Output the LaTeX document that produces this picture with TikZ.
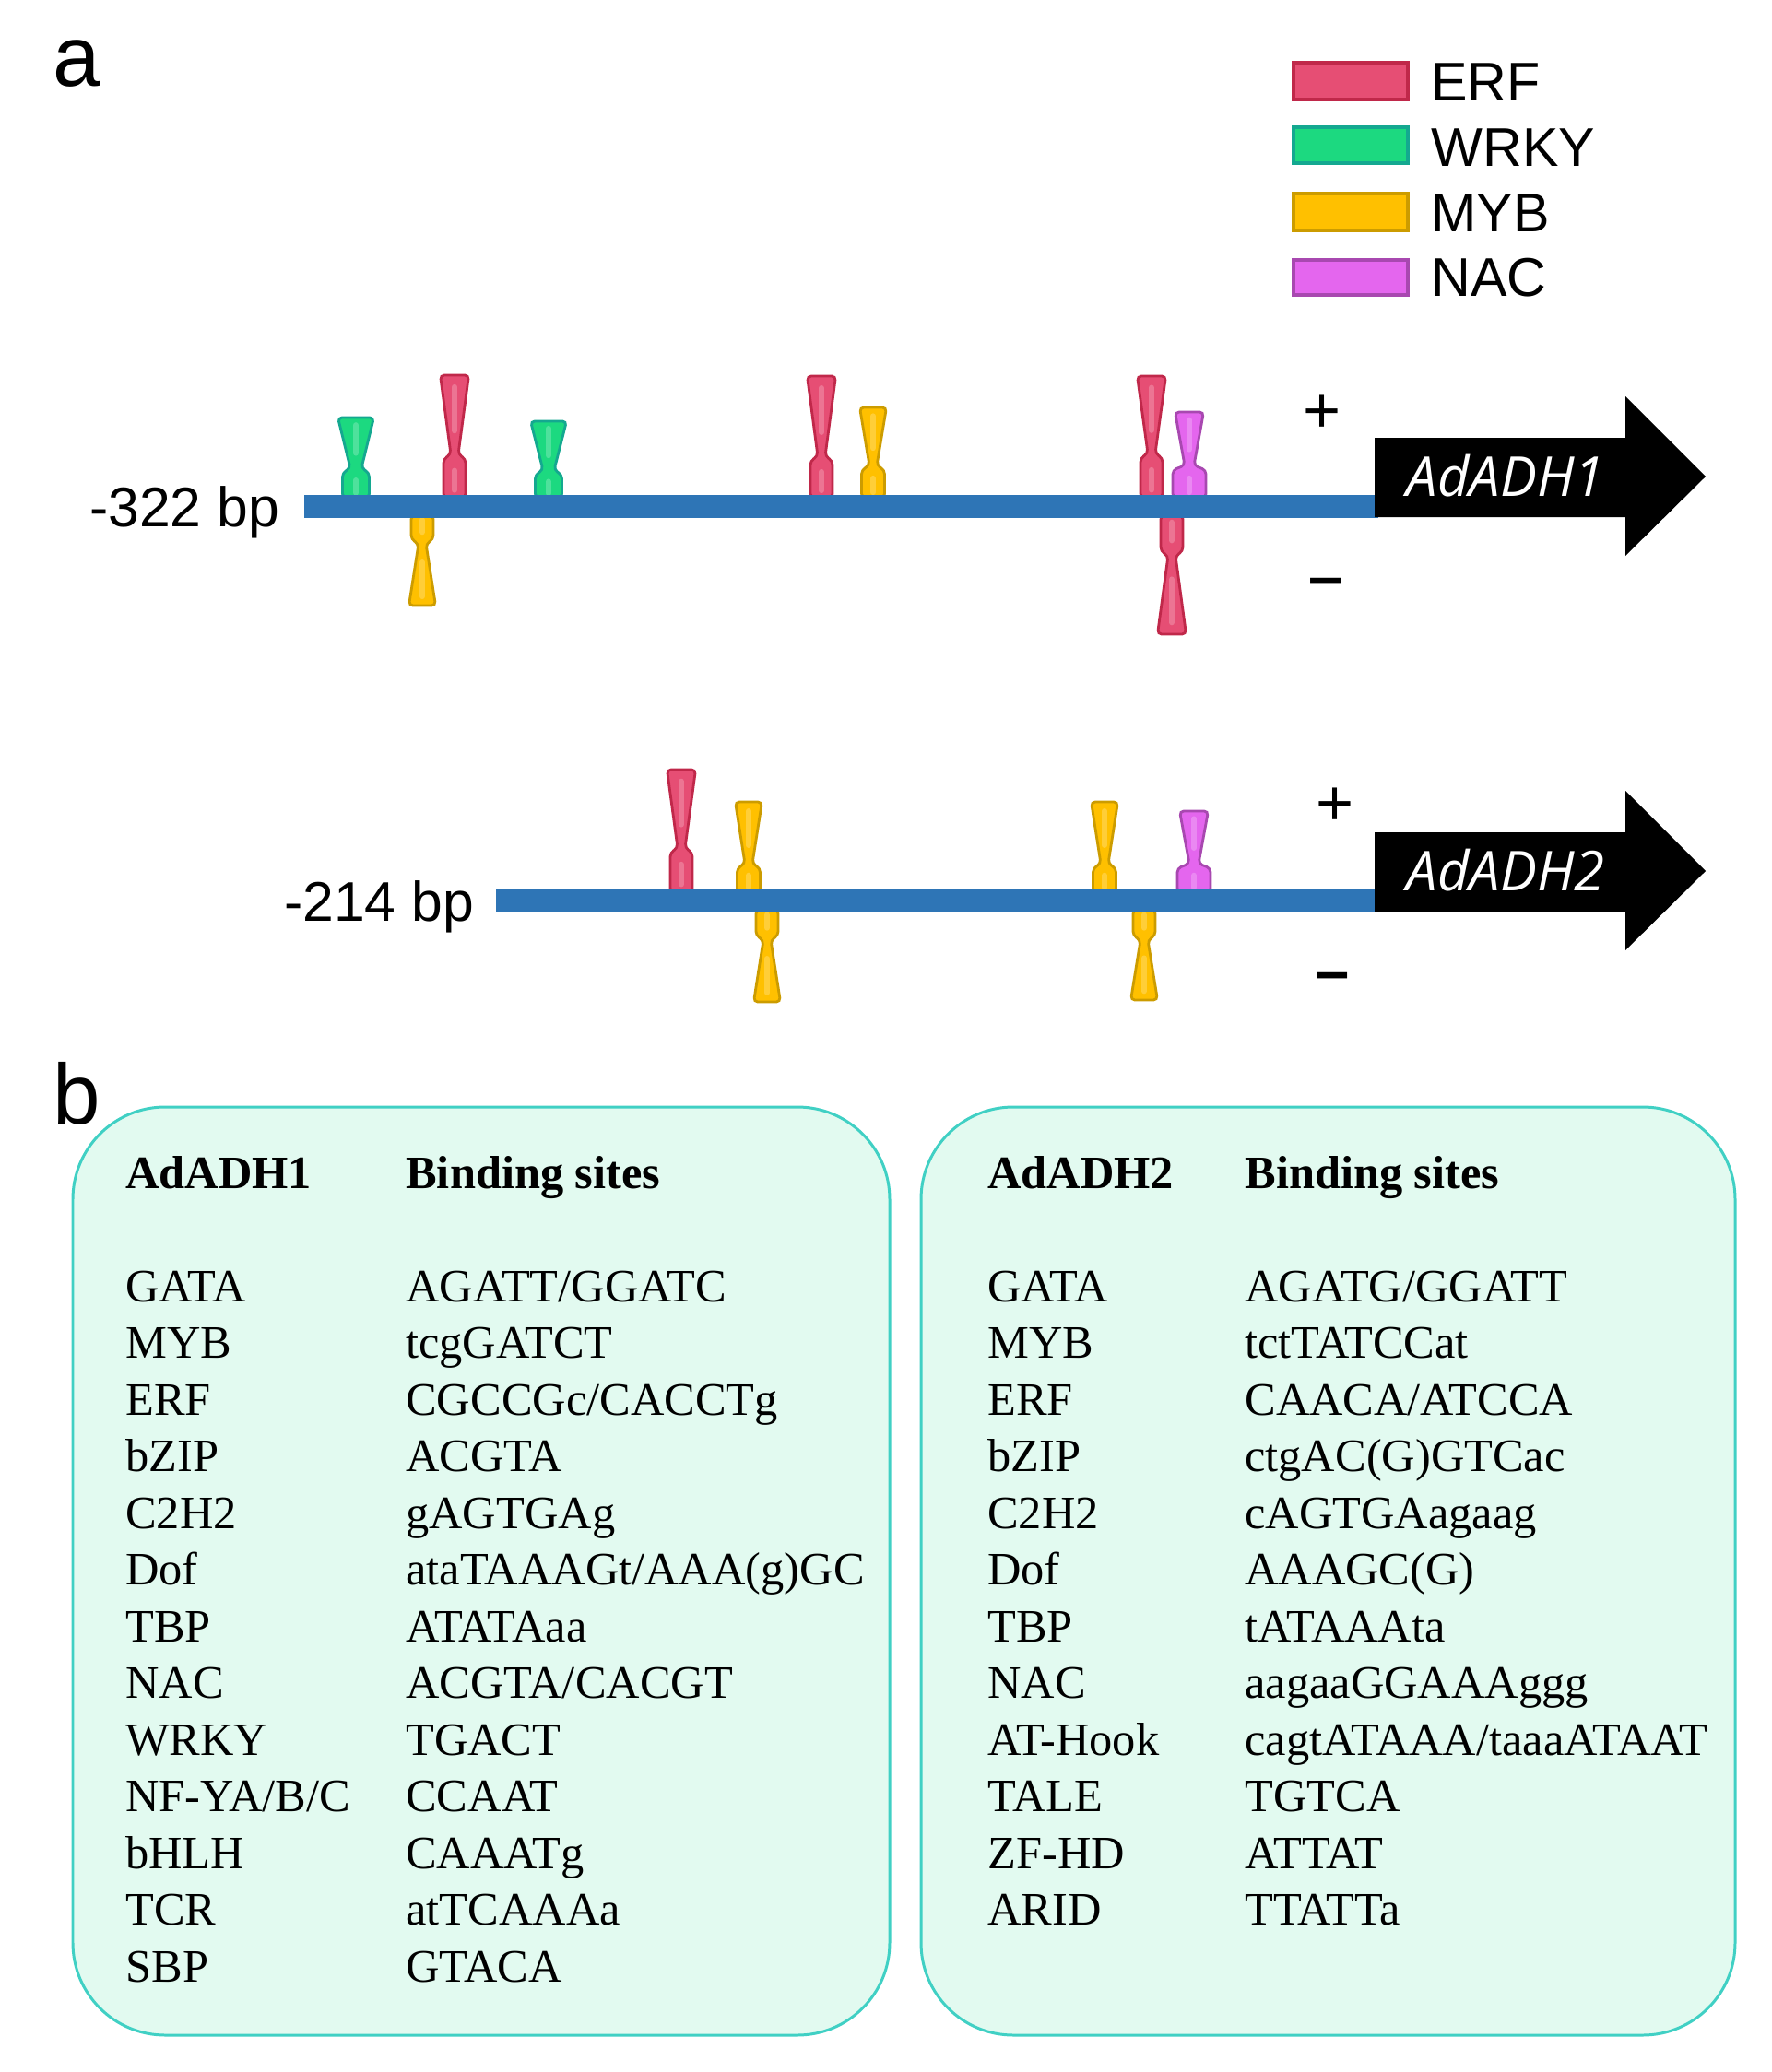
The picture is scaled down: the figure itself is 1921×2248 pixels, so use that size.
\documentclass[tikz,border=0pt]{standalone}
\usepackage{fontspec}
\setmainfont{Liberation Serif}
\setsansfont{Liberation Sans}
\newfontfamily\genefont{Open Sans}
\definecolor{erfF}{HTML}{E64E74}
\definecolor{erfD}{HTML}{C0284A}
\definecolor{wrkF}{HTML}{1CD980}
\definecolor{wrkD}{HTML}{14A890}
\definecolor{mybF}{HTML}{FFC000}
\definecolor{mybD}{HTML}{CC9C00}
\definecolor{nacF}{HTML}{E466EE}
\definecolor{nacD}{HTML}{A848B0}
\definecolor{barc}{HTML}{2E75B6}
\definecolor{boxF}{HTML}{E2FAF0}
\definecolor{boxD}{HTML}{40D0C4}
% #1 x, #2 y at bar, #3 y notch, #4 y waist, #5 y far end, #6 stem width, #7 head width, #8 waist half-width, #9 colour key
\newcommand\tfbs[9]{%
  \draw[line width=1.6pt, rounded corners=2.5pt, draw=#9D, fill=#9F]
    ({#1-#6/2},#2) -- ({#1+#6/2},#2) -- ({#1+#6/2},#3) -- ({#1+#8},#4)
    -- ({#1+#7/2},#5) -- ({#1-#7/2},#5) -- ({#1-#8},#4) -- ({#1-#6/2},#3) -- cycle;
  \draw[line width=3.5pt, #9F!78!white, line cap=round] (#1,{0.8*#2+0.2*#3}) -- (#1,{0.3*#2+0.7*#3});
  \draw[line width=3.5pt, #9F!78!white, line cap=round] (#1,{0.7*#4+0.3*#5}) -- (#1,{0.15*#4+0.85*#5});
}
\tikzset{
  panel/.style={font=\sffamily\fontsize{52.7}{60}\selectfont, anchor=base west, inner sep=0pt},
  legtxt/.style={font=\sffamily\fontsize{33.7}{40}\selectfont, anchor=base west, inner sep=0pt},
  legbox/.style={line width=2.2pt},
  bplabel/.style={font=\sffamily\fontsize{34.5}{40}\selectfont, anchor=base west, inner sep=0pt},
  plus/.style={font=\sffamily\fontsize{40}{46}\selectfont, inner sep=0pt},
  minus/.style={font=\sffamily\bfseries\fontsize{38}{44}\selectfont, inner sep=0pt},
  gene/.style={font=\genefont\itshape\fontsize{34}{40}\selectfont, text=white, inner sep=0pt},
  tbl/.style={font=\fontsize{28.7}{34}\selectfont, anchor=base west, inner sep=0pt},
  tblh/.style={font=\bfseries\fontsize{28.7}{34}\selectfont, anchor=base west, inner sep=0pt},
  sitebox/.style={draw=boxD, fill=boxF, line width=1.7pt, rounded corners=57pt},
}
\begin{document}
\begin{tikzpicture}[x=0.02cm, y=-0.02cm]
\useasboundingbox (0,0) rectangle (1921,2248);
% panel labels
\node[panel] (pa) at (57,93) {a};
\node[panel] (pb) at (57,1219) {b};
% legend
\draw[legbox, draw=erfD, fill=erfF] (1403,68) rectangle (1527,108);
\draw[legbox, draw=wrkD, fill=wrkF] (1403,138) rectangle (1527,177);
\draw[legbox, draw=mybD, fill=mybF] (1403,210) rectangle (1527,250);
\draw[legbox, draw=nacD, fill=nacF] (1403,282) rectangle (1527,320);
\node[legtxt] (lerf) at (1552,109) {ERF};
\node[legtxt] (lwrk) at (1552,180) {WRKY};
\node[legtxt] (lmyb) at (1552,251) {MYB};
\node[legtxt] (lnac) at (1552,321) {NAC};
% ---------- track 1 ----------
\tfbs{386}{540}{513}{508}{453}{29}{39}{6}{wrk}
\tfbs{493}{540}{498}{493}{407}{24}{31}{4}{erf}
\tfbs{595}{540}{515}{510}{457}{29}{39}{6}{wrk}
\tfbs{891}{540}{500}{495}{408}{24}{31}{4}{erf}
\tfbs{947}{540}{510}{505}{442}{25}{29}{4}{myb}
\tfbs{1249}{540}{497}{492}{408}{24}{31}{4}{erf}
\tfbs{1290}{540}{510}{505}{447}{36}{31}{5}{nac}
\tfbs{458}{559}{585}{590}{657}{24}{29}{4}{myb}
\tfbs{1271}{559}{598}{603}{688}{24}{31}{4}{erf}
\fill[barc] (330,537) rectangle (1495,562);
\fill[black] (1491,475) -- (1763,475) -- (1763,430) -- (1850,517) -- (1763,603) -- (1763,561) -- (1491,561) -- cycle;
\node[gene] (g1) at (1633,516) {AdADH1};
\node[bplabel] (bp1) at (97,571) {-322 bp};
\node[plus] (p1) at (1434,449) {+};
\node[minus] (m1) at (1438,638) {–};
% ---------- track 2 ----------
\tfbs{739}{968}{925}{920}{835}{24}{31}{4}{erf}
\tfbs{812}{968}{942}{937}{870}{25}{29}{4}{myb}
\tfbs{1198}{968}{942}{937}{870}{25}{29}{4}{myb}
\tfbs{1295}{968}{942}{937}{880}{36}{31}{5}{nac}
\tfbs{832}{987}{1015}{1020}{1087}{24}{29}{4}{myb}
\tfbs{1241}{987}{1015}{1020}{1085}{24}{29}{4}{myb}
\fill[barc] (538,965) rectangle (1495,990);
\fill[black] (1491,903) -- (1763,903) -- (1763,858) -- (1850,945) -- (1763,1031) -- (1763,989) -- (1491,989) -- cycle;
\node[gene] (g2) at (1633,944) {AdADH2};
\node[bplabel] (bp2) at (308,999) {-214 bp};
\node[plus] (p2) at (1448,875) {+};
\node[minus] (m2) at (1445,1066) {–};
% ---------- panel b ----------
\draw[sitebox] (79,1201) rectangle (965,2208);
\draw[sitebox] (999,1201) rectangle (1882,2208);
\node[tblh] (h1a) at (136,1289) {AdADH1};
\node[tblh] (h1b) at (440,1289) {Binding sites};
\node[tblh] (h2a) at (1071,1289) {AdADH2};
\node[tblh] (h2b) at (1350,1289) {Binding sites};
\foreach \n/\s [count=\i from 0] in {GATA/AGATT\slash GGATC, MYB/tcgGATCT, ERF/CGCCGc\slash CACCTg, bZIP/ACGTA, C2H2/gAGTGAg, Dof/ataTAAAGt\slash AAA(g)GC, TBP/ATATAaa, NAC/ACGTA\slash CACGT, WRKY/TGACT, NF-YA\slash B\slash C/CCAAT, bHLH/CAAATg, TCR/atTCAAAa, SBP/GTACA}{
  \node[tbl] (la\i) at (136,{1412+61.5*\i}) {\n};
  \node[tbl] (lb\i) at (440,{1412+61.5*\i}) {\s};
}
\foreach \n/\s [count=\i from 0] in {GATA/AGATG\slash GGATT, MYB/tctTATCCat, ERF/CAACA\slash ATCCA, bZIP/ctgAC(G)GTCac, C2H2/cAGTGAagaag, Dof/AAAGC(G), TBP/tATAAAta, NAC/aagaaGGAAAggg, AT-Hook/cagtATAAA\slash taaaATAAT, TALE/TGTCA, ZF-HD/ATTAT, ARID/TTATTa}{
  \node[tbl] (ra\i) at (1071,{1412+61.5*\i}) {\n};
  \node[tbl] (rb\i) at (1350,{1412+61.5*\i}) {\s};
}
\end{tikzpicture}
\end{document}
